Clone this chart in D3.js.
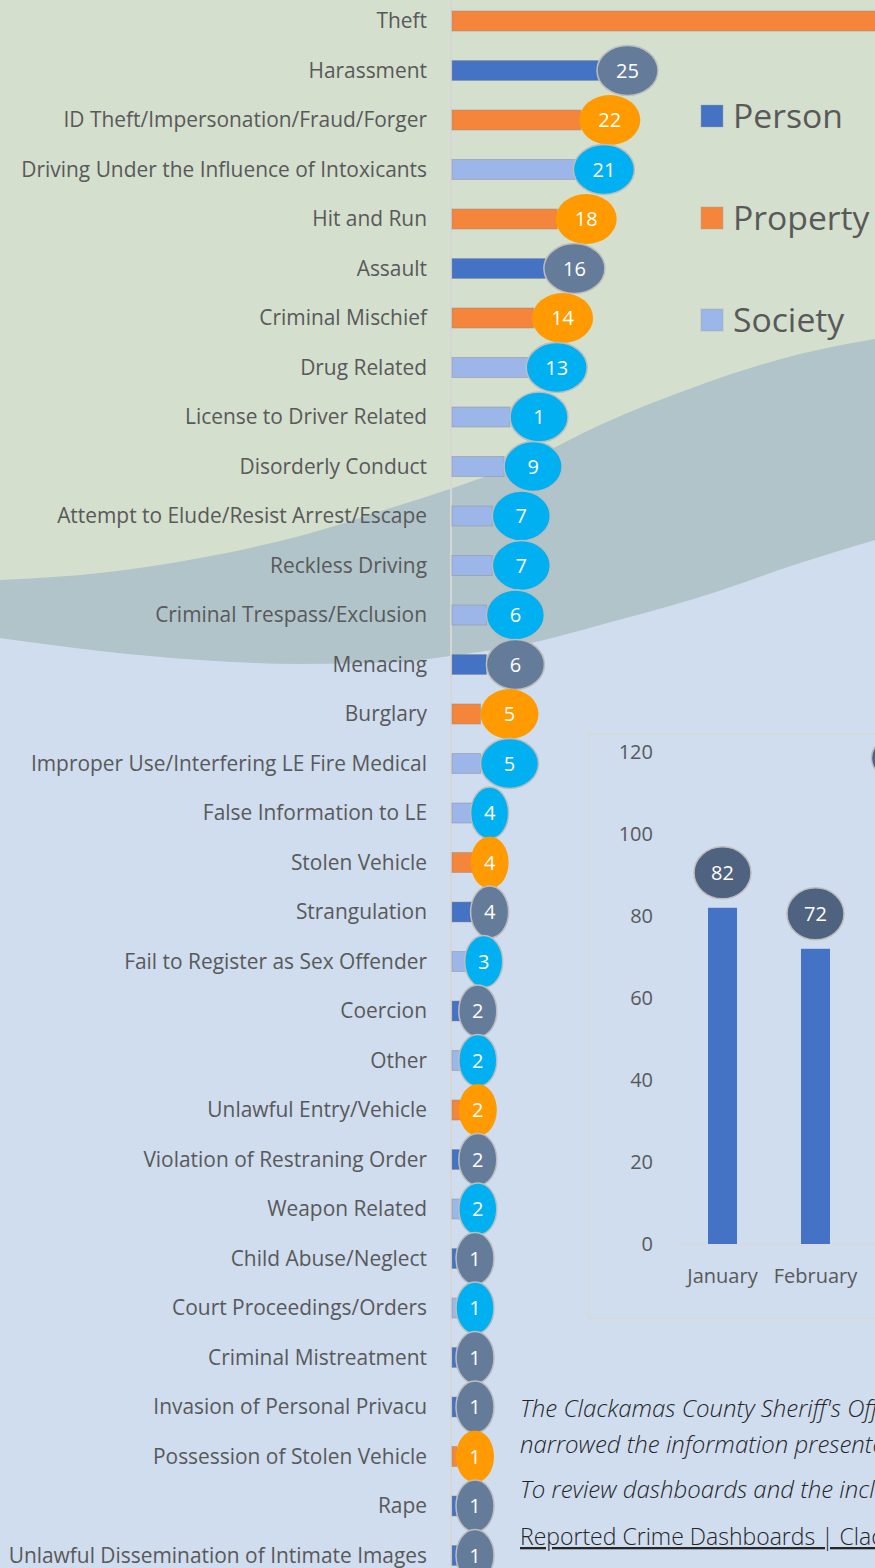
<!DOCTYPE html>
<html>
<head>
<meta charset="utf-8">
<script src="https://cdn.jsdelivr.net/npm/d3@7/dist/d3.min.js"></script>
<style>
  html, body { margin: 0; padding: 0; background: #CFDDEF; }
  svg { display: block; }
  text { font-family: "Open Sans", "Noto Sans", sans-serif; }
</style>
</head>
<body>
<svg id="chart" width="875" height="1568"></svg>
<script>
// ---------------- DATA ----------------
const categories = [
  "Theft", "Harassment", "ID Theft/Impersonation/Fraud/Forger",
  "Driving Under the Influence of Intoxicants", "Hit and Run", "Assault",
  "Criminal Mischief", "Drug Related", "License to Driver Related",
  "Disorderly Conduct", "Attempt to Elude/Resist Arrest/Escape",
  "Reckless Driving", "Criminal Trespass/Exclusion", "Menacing", "Burglary",
  "Improper Use/Interfering LE Fire Medical", "False Information to LE",
  "Stolen Vehicle", "Strangulation", "Fail to Register as Sex Offender",
  "Coercion", "Other", "Unlawful Entry/Vehicle", "Violation of Restraning Order",
  "Weapon Related", "Child Abuse/Neglect", "Court Proceedings/Orders",
  "Criminal Mistreatment", "Invasion of Personal Privacu",
  "Possession of Stolen Vehicle", "Rape", "Unlawful Dissemination of Intimate Images"
];
const crimeGroups = [
  "Property", "Person", "Property", "Society", "Property", "Person",
  "Property", "Society", "Society", "Society", "Society",
  "Society", "Society", "Person", "Property",
  "Society", "Society", "Property", "Person", "Society",
  "Person", "Society", "Property", "Person",
  "Society", "Person", "Society",
  "Person", "Person", "Property", "Person", "Person"
];
const counts = [80, 25, 22, 21, 18, 16, 14, 13, 10, 9, 7, 7, 6, 6, 5, 5, 4, 4, 4, 3,
                2, 2, 2, 2, 2, 1, 1, 1, 1, 1, 1, 1];
const countLabels = ["80", "25", "22", "21", "18", "16", "14", "13", "1", "9", "7", "7", "6", "6",
                     "5", "5", "4", "4", "4", "3", "2", "2", "2", "2", "2",
                     "1", "1", "1", "1", "1", "1", "1"];
const legendGroups = ["Person", "Property", "Society"];

const months = ["January", "February", "March"];
const monthlyCounts = [82, 72, 110];
const monthTicks = [0, 20, 40, 60, 80, 100, 120];

const noteLines = [
  "The Clackamas County Sheriff's Office has",
  "narrowed the information presented in this",
  "To review dashboards and the included"
];
const linkText = "Reported Crime Dashboards | Clackamas County";

// ---------------- STYLES ----------------
const barColor = { Person: "#4472C4", Property: "#F5853A", Society: "#9CB6E9" };
const bubbleColor = { Person: "#647C9A", Property: "#FF9A00", Society: "#00B0F0" };
const bubbleStroke = { Person: "#BDBDBD", Property: "none", Society: "#BDBDBD" };

const W = 875, H = 1568;
const svg = d3.select("#chart");

// ---------------- BACKGROUND ----------------
svg.append("rect").attr("width", W).attr("height", H).attr("fill", "#CFDDEF");
const topEdge = [[0,580],[100,573],[200,558],[300,536],[400,505],[450,489],[530,459],[600,425],[700,385],[800,354],[875,339]];
const lowEdge = [[0,638],[100,651],[200,660],[300,664],[400,662],[450,656],[540,641],[600,625],[700,597],[800,563],[875,540]];
const areaFromTop = d3.area().curve(d3.curveMonotoneX).x(d => d[0]).y0(0).y1(d => d[1]);
svg.append("path").attr("d", areaFromTop(lowEdge)).attr("fill", "#B0C4C9");
svg.append("path").attr("d", areaFromTop(topEdge)).attr("fill", "#D4DFCE");

// ---------------- HORIZONTAL BAR CHART ----------------
const x0 = 451;
const x = d3.scaleLinear().domain([0, 80]).range([x0, x0 + 472]);
const step = 49.5;
const y = d3.scaleBand().domain(categories)
  .range([21 - step / 2, 21 - step / 2 + step * categories.length])
  .paddingInner(1 - 20 / step).paddingOuter((1 - 20 / step) / 2);

const rows = categories.map((c, i) => ({ cat: c, group: crimeGroups[i], value: counts[i], label: countLabels[i] }));

// category labels
const labels = svg.append("g").selectAll("text").data(rows).join("text")
  .attr("x", 427)
  .attr("y", d => y(d.cat) + y.bandwidth() / 2)
  .attr("dy", "0.35em")
  .attr("text-anchor", "end")
  .attr("fill", "#595959")
  .attr("font-size", 20)
  .text(d => d.cat);
const longest = labels.filter(d => d.cat.startsWith("Driving")).node();
const lw = longest.getComputedTextLength();
labels.attr("font-size", 20 * 406 / lw);

// axis line
svg.append("line").attr("x1", x0).attr("x2", x0).attr("y1", 0).attr("y2", H)
  .attr("stroke", "#D6D6D6").attr("stroke-width", 2);

// bars
svg.append("g").selectAll("rect").data(rows).join("rect")
  .attr("x", x0 + 1)
  .attr("y", d => y(d.cat))
  .attr("width", d => x(d.value) - x0 - 1)
  .attr("height", y.bandwidth())
  .attr("fill", d => barColor[d.group])
  .attr("stroke", "rgba(140,140,140,0.45)")
  .attr("stroke-width", 1);

// bubbles
const bubbleW = d => d.value >= 5 ? (d.label.length > 1 ? 61 : 58) : 38;
const bubbleH = d => d.value >= 5 ? 50 : 52;
const bubbleCX = d => d.value >= 5 ? x(d.value) + 29 : Math.max(x(d.value) + 15, 475);
const bub = svg.append("g").selectAll("g").data(rows).join("g")
  .attr("transform", d => `translate(${bubbleCX(d)},${y(d.cat) + y.bandwidth() / 2})`);
bub.append("ellipse")
  .attr("rx", d => bubbleW(d) / 2).attr("ry", d => bubbleH(d) / 2)
  .attr("fill", d => bubbleColor[d.group])
  .attr("stroke", d => bubbleStroke[d.group])
  .attr("stroke-width", 1.5);
bub.append("text")
  .attr("text-anchor", "middle").attr("dy", "0.36em")
  .attr("fill", "#FFFFFF").attr("font-size", 20)
  .text(d => d.label);

// legend
const legY = d3.scalePoint().domain(legendGroups).range([116, 320]);
const leg = svg.append("g").selectAll("g").data(legendGroups).join("g")
  .attr("transform", d => `translate(701,${legY(d)})`);
leg.append("rect").attr("x", 0).attr("y", -11).attr("width", 22).attr("height", 22)
  .attr("fill", d => barColor[d]).attr("stroke", "rgba(160,160,160,0.4)");
const legText = leg.append("text").attr("x", 32).attr("dy", "0.35em")
  .attr("fill", "#595959").attr("font-size", 36).text(d => d);
const pw = legText.filter(d => d === "Person").node().getComputedTextLength();
legText.attr("font-size", 36 * 110 / pw);

// ---------------- INSET MONTHLY CHART ----------------
const inset = svg.append("g");
inset.append("rect").attr("x", 588.5).attr("y", 733.5).attr("width", 700).attr("height", 585)
  .attr("fill", "none").attr("stroke", "#DAD8D2").attr("stroke-width", 1.2);
const yM = d3.scaleLinear().domain([0, 120]).range([1244, 752]);
const xM = d3.scaleBand().domain(months).range([676, 676 + 93 * months.length])
  .paddingInner(1 - 29 / 93).paddingOuter((1 - 29 / 93) / 2);

const yAxis = d3.axisLeft(yM).tickValues(monthTicks).tickSize(0).tickPadding(0);
const yAx = inset.append("g").attr("transform", "translate(653,0)").call(yAxis);
yAx.select(".domain").remove();
yAx.selectAll("text").attr("font-size", 20).attr("fill", "#595959")
  .attr("font-family", "'Open Sans', sans-serif");

inset.append("line").attr("x1", 677).attr("x2", W).attr("y1", 1244.5).attr("y2", 1244.5)
  .attr("stroke", "#D9D9D9").attr("stroke-width", 1.5);

const xAxis = d3.axisBottom(xM).tickSize(0).tickPadding(0);
const xAx = inset.append("g").attr("transform", "translate(0,1276)").call(xAxis);
xAx.select(".domain").remove();
xAx.selectAll("text").attr("font-size", 20).attr("fill", "#595959").attr("dy", "0.35em")
  .attr("font-family", "'Open Sans', sans-serif");

const mrows = months.map((m, i) => ({ m, v: monthlyCounts[i] }));
inset.append("g").selectAll("rect").data(mrows).join("rect")
  .attr("x", d => xM(d.m)).attr("width", xM.bandwidth())
  .attr("y", d => yM(d.v)).attr("height", d => yM(0) - yM(d.v))
  .attr("fill", "#4472C4");
const mb = inset.append("g").selectAll("g").data(mrows).join("g")
  .attr("transform", d => `translate(${xM(d.m) + xM.bandwidth() / 2},${yM(d.v) - 35})`);
mb.append("ellipse").attr("rx", d => String(d.v).length > 2 ? 37 : 28.5).attr("ry", 26)
  .attr("fill", "#4F6280").attr("stroke", "#BDBDBD").attr("stroke-width", 1.5);
mb.append("text").attr("text-anchor", "middle").attr("dy", "0.36em")
  .attr("fill", "#FFFFFF").attr("font-size", 20).text(d => d.v);

// ---------------- NOTE TEXT ----------------
const noteY = [1417, 1453, 1498];
svg.append("g").selectAll("text").data(noteLines).join("text")
  .attr("x", 520).attr("y", (d, i) => noteY[i])
  .attr("font-style", "italic").attr("font-weight", 300)
  .attr("fill", "#262626").attr("font-size", 24).text(d => d);

svg.append("text").attr("x", 520).attr("y", 1545)
  .attr("font-weight", 300).attr("fill", "#262626").attr("font-size", 23)
  .attr("text-decoration", "underline").text(linkText);
</script>
</body>
</html>
